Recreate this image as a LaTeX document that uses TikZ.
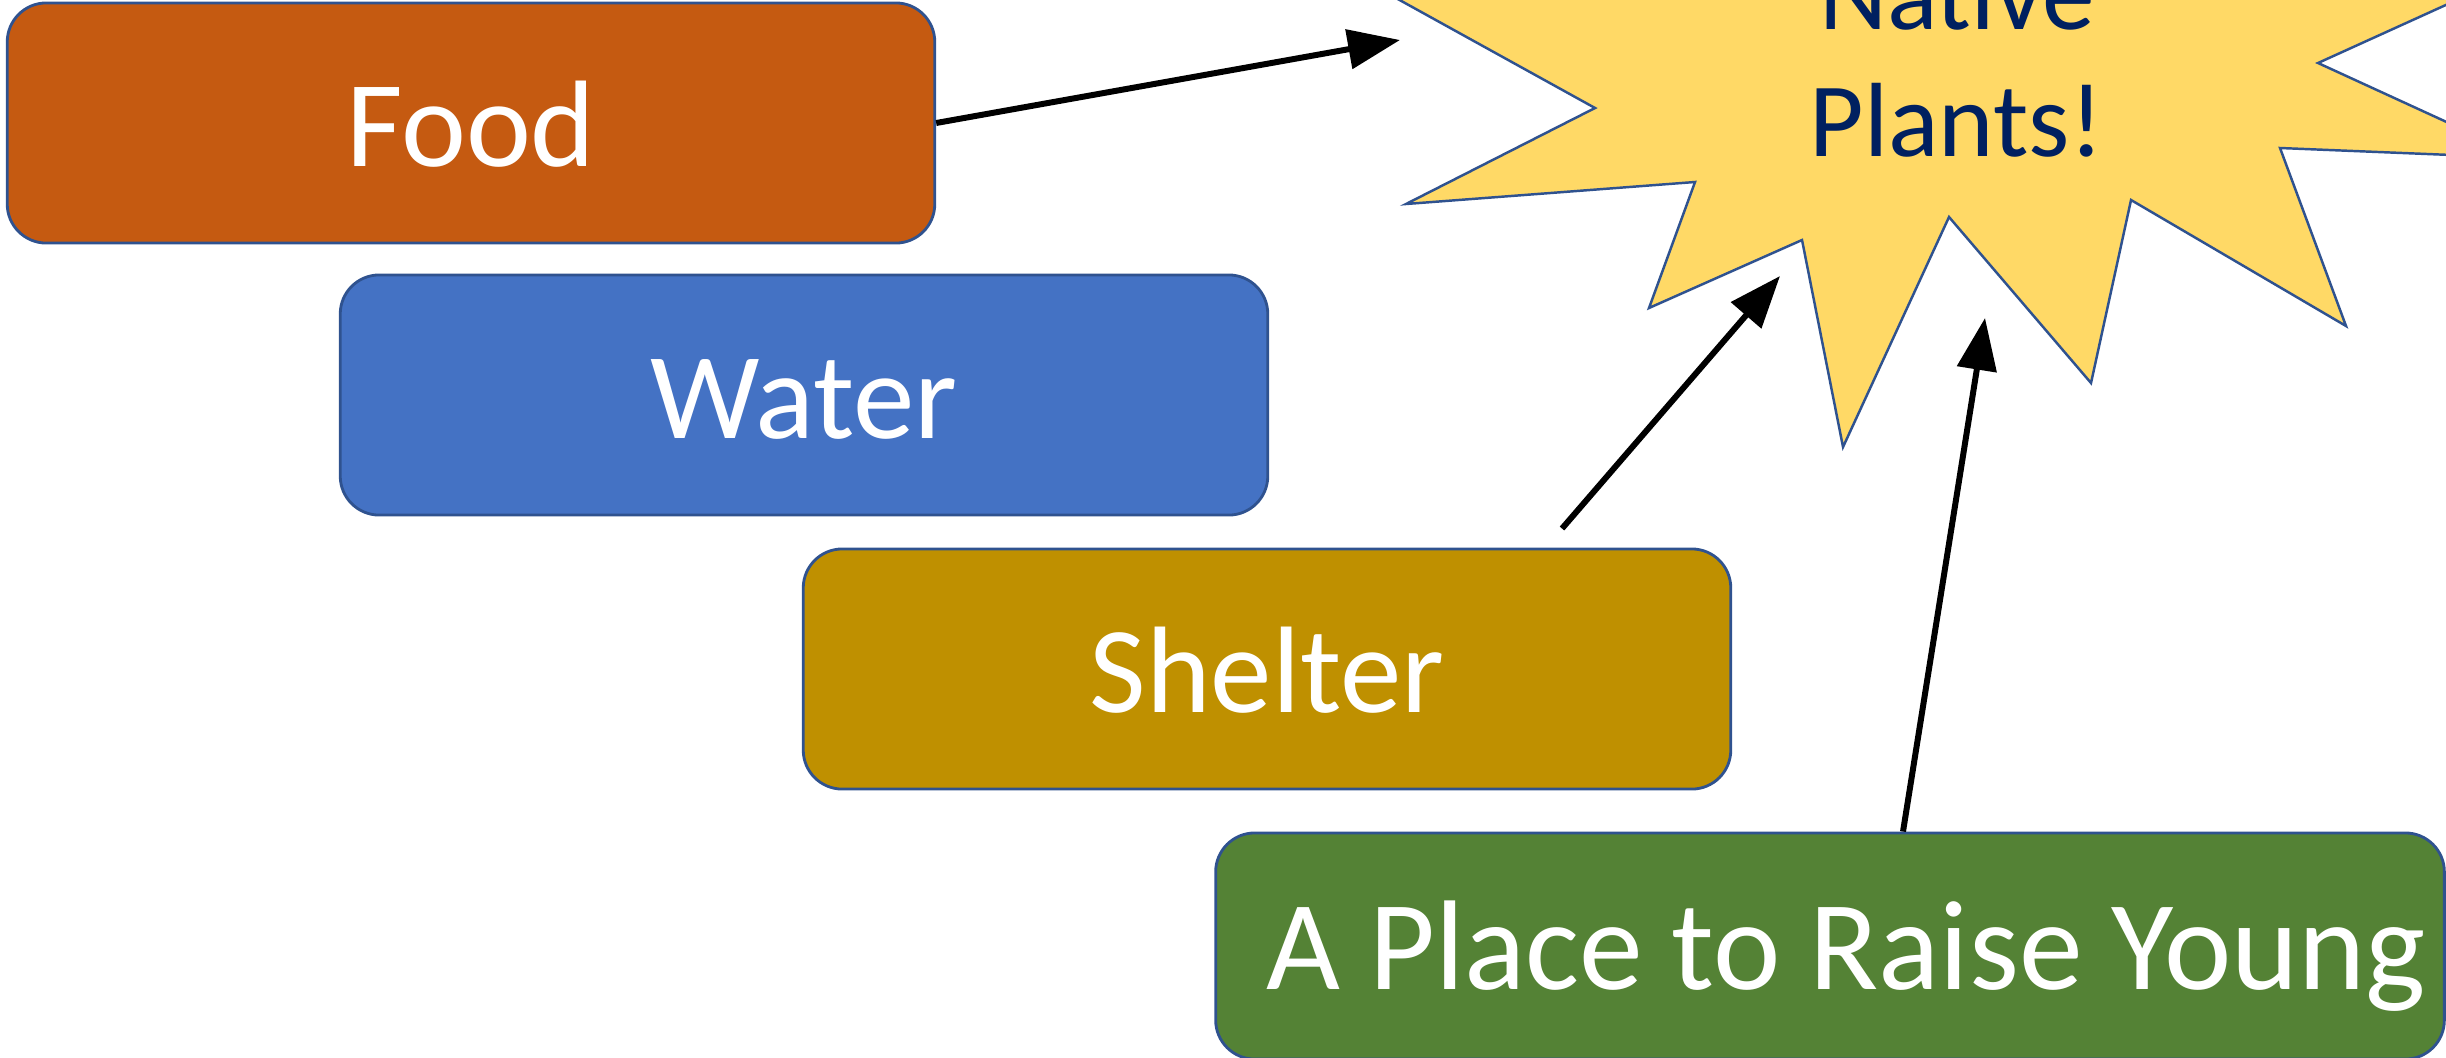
\documentclass[tikz,border=0pt]{standalone}
\usepackage{fontspec}
\setmainfont{Carlito}
\usepackage{tikz}
\usetikzlibrary{arrows.meta}
\usetikzlibrary{positioning}
\usetikzlibrary{calc}

\definecolor{foodorange}{RGB}{197,90,17}
\definecolor{waterblue}{RGB}{68,114,196}
\definecolor{sheltergold}{RGB}{191,144,0}
\definecolor{younggreen}{RGB}{84,130,53}
\definecolor{stargold}{RGB}{255,217,102}
\definecolor{boxline}{RGB}{47,82,143}
\definecolor{navy}{RGB}{0,32,96}

\begin{document}
\begin{tikzpicture}[x=0.01cm,y=-0.01cm]
\tikzstyle{box}=[rectangle,rounded corners=0.39cm,draw=boxline,line width=0.8pt,
  minimum width=9.27cm,minimum height=2.4cm,text=white,
  font=\fontsize{35}{42}\selectfont,text height=25pt,text depth=0pt]
\tikzstyle{arrow}=[-{Triangle[length=5.2mm,width=3.9mm]},line width=1.7pt,black]
\useasboundingbox (0,0) rectangle (2446,1057);
% the star, top part runs off the page
\filldraw[fill=stargold,draw=boxline,line width=0.7pt]
  (1300,-55) -- (1595,108) -- (1406,204) -- (1695,182) -- (1649,308)
  -- (1802,240) -- (1843,447) -- (1949,217) -- (2091,383) -- (2131,200)
  -- (2346,326) -- (2280,148) -- (2525,158) -- (2318,63) -- (2600,-65)
  -- (2000,-300) -- cycle;
\node[text=navy,font=\fontsize{30}{36}\selectfont,align=center] (plants) at (1957,57) {Native\\Plants!};
\node[box,fill=foodorange] (food) at (471,123) {Food};
\node[box,fill=waterblue] (water) at (804,395) {Water};
\node[box,fill=sheltergold] (shelter) at (1267,669) {Shelter};
\node[box,fill=younggreen,minimum width=12.28cm,minimum height=2.26cm,
  font=\fontsize{36.3}{43}\selectfont] (young) at (1830,946) {\hspace*{3.2mm}A Place to Raise Young};
%\node[box,fill=younggreen,right=of shelter] {};
\coordinate (tipfood) at (1400,40);
\coordinate (tipshelter) at (1780,276);
\coordinate (tipyoung) at (1985,318);
\draw[arrow] (food.east) -- (tipfood);
\draw[arrow] ($(shelter.north)+(295,-19)$) -- (tipshelter);
\draw[arrow] ($(young.north)+(73,0)$) -- (tipyoung);
\end{tikzpicture}
\end{document}
